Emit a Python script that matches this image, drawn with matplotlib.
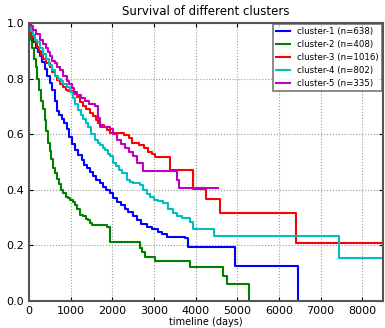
import matplotlib
matplotlib.use("Agg")
import matplotlib.pyplot as plt

# Kaplan-Meier style curves (time in days, survival)
t1 = [0, 50, 100, 160, 220, 265, 320, 385, 440, 505, 560, 620, 670, 730, 790, 850, 910, 970,
      1030, 1100, 1180, 1270, 1330, 1390, 1460, 1540, 1620, 1710, 1780, 1850, 1950, 2030, 2110,
      2200, 2300, 2390, 2500, 2600, 2700, 2835, 2950, 3100, 3200, 3320, 3750, 3820, 4950, 6460]
s1 = [0.97, 0.95, 0.93, 0.91, 0.895, 0.88, 0.86, 0.835, 0.81, 0.785, 0.76, 0.72, 0.685, 0.67,
      0.655, 0.64, 0.62, 0.59, 0.565, 0.545, 0.525, 0.507, 0.49, 0.48, 0.465, 0.45, 0.435, 0.424,
      0.41, 0.40, 0.39, 0.37, 0.355, 0.345, 0.33, 0.32, 0.305, 0.29, 0.278, 0.267, 0.258, 0.25,
      0.24, 0.23, 0.227, 0.195, 0.126, 0.0]

t2 = [0, 40, 80, 120, 160, 200, 250, 300, 340, 380, 420, 460, 500, 540, 580, 630, 680, 730,
      780, 820, 880, 940, 985, 1050, 1105, 1160, 1225, 1300, 1360, 1420, 1470, 1515, 1875, 1950,
      2670, 2720, 2790, 3030, 3870, 4665, 4760, 5290]
s2 = [0.97, 0.94, 0.91, 0.87, 0.84, 0.80, 0.76, 0.72, 0.69, 0.65, 0.61, 0.57, 0.54, 0.51, 0.48,
      0.46, 0.44, 0.42, 0.40, 0.39, 0.375, 0.37, 0.365, 0.355, 0.345, 0.33, 0.31, 0.305, 0.295,
      0.29, 0.28, 0.273, 0.267, 0.212, 0.19, 0.175, 0.158, 0.144, 0.122, 0.09, 0.061, 0.0]

t3 = [0, 50, 100, 150, 190, 250, 300, 350, 420, 505, 560, 620, 680, 745, 820, 880, 950, 1050,
      1150, 1220, 1300, 1380, 1465, 1530, 1600, 1660, 1710, 1800, 1870, 1950, 2285, 2400, 2475,
      2640, 2760, 2860, 2950, 3030, 3390, 3940, 4255, 4590, 6420, 8700]
s3 = [0.975, 0.96, 0.945, 0.93, 0.915, 0.9, 0.885, 0.87, 0.855, 0.84, 0.825, 0.81, 0.795, 0.78,
      0.77, 0.76, 0.755, 0.745, 0.735, 0.715, 0.70, 0.69, 0.675, 0.665, 0.65, 0.64, 0.633, 0.625,
      0.615, 0.605, 0.597, 0.585, 0.568, 0.56, 0.55, 0.536, 0.528, 0.518, 0.471, 0.403, 0.367,
      0.316, 0.209, 0.209]

t4 = [0, 30, 60, 100, 150, 200, 270, 340, 410, 480, 550, 625, 700, 760, 830, 910, 980, 1050,
      1110, 1180, 1240, 1300, 1360, 1420, 1500, 1590, 1650, 1710, 1770, 1830, 1900, 1950, 2020,
      2100, 2170, 2235, 2355, 2430, 2500, 2670, 2750, 2830, 2910, 3000, 3100, 3220, 3340, 3460,
      3560, 3680, 3870, 3940, 4450, 7450, 8700]
s4 = [1.0, 0.985, 0.97, 0.955, 0.94, 0.93, 0.91, 0.89, 0.87, 0.85, 0.83, 0.81, 0.80, 0.79, 0.78,
      0.77, 0.75, 0.73, 0.71, 0.687, 0.67, 0.655, 0.64, 0.626, 0.60, 0.58, 0.57, 0.56, 0.55, 0.543,
      0.53, 0.52, 0.496, 0.485, 0.47, 0.46, 0.435, 0.43, 0.425, 0.417, 0.40, 0.385, 0.375, 0.365,
      0.36, 0.352, 0.33, 0.316, 0.305, 0.298, 0.285, 0.26, 0.234, 0.155, 0.155]

t5 = [0, 50, 100, 180, 265, 330, 400, 450, 505, 560, 620, 680, 745, 830, 910, 970, 1030, 1090,
      1150, 1250, 1345, 1450, 1585, 1650, 1710, 1800, 1950, 2030, 2110, 2200, 2310, 2400, 2500,
      2600, 2740, 3560, 3610, 4550]
s5 = [1.0, 0.99, 0.975, 0.96, 0.94, 0.925, 0.91, 0.895, 0.88, 0.865, 0.855, 0.84, 0.83, 0.81,
      0.79, 0.78, 0.765, 0.75, 0.74, 0.73, 0.72, 0.71, 0.70, 0.66, 0.627, 0.625, 0.62, 0.60, 0.58,
      0.565, 0.55, 0.535, 0.52, 0.496, 0.468, 0.435, 0.405, 0.405]

labels = ["cluster-1 (n=638)", "cluster-2 (n=408)", "cluster-3 (n=1016)",
          "cluster-4 (n=802)", "cluster-5 (n=335)"]
colors = ["#0000ff", "#008000", "#ff0000", "#00bfbf", "#bf00bf"]

fig = plt.figure(figsize=(3.85, 3.28), dpi=100)
ax = fig.add_axes([0.075, 0.082, 0.92, 0.848])

for t, s, lab, c in zip([t1, t2, t3, t4, t5], [s1, s2, s3, s4, s5], labels, colors):
    ax.step(t, s, where="post", color=c, lw=1.5, label=lab)

ax.set_xlim(0, 8500)
ax.set_ylim(0, 1.0)
ax.set_xticks(range(0, 9000, 1000))
ax.set_yticks([0.0, 0.2, 0.4, 0.6, 0.8, 1.0])
ax.tick_params(labelsize=8, direction="in", top=True, right=True, length=3)
ax.grid(True, color="#999999", linestyle=":", linewidth=0.8)
for sp in ax.spines.values():
    sp.set_color("#555555")
    sp.set_linewidth(1.5)

ax.set_title("Survival of different clusters", fontsize=8.5)
ax.set_xlabel("timeline (days)", fontsize=7, labelpad=1)

leg = ax.legend(loc="upper right", fontsize=6.2, fancybox=False, handlelength=1.6,
                borderaxespad=0.1, labelspacing=0.45, borderpad=0.4)
leg.get_frame().set_edgecolor("#555555")
leg.get_frame().set_linewidth(1.2)

fig.savefig("out.png", dpi=100)
